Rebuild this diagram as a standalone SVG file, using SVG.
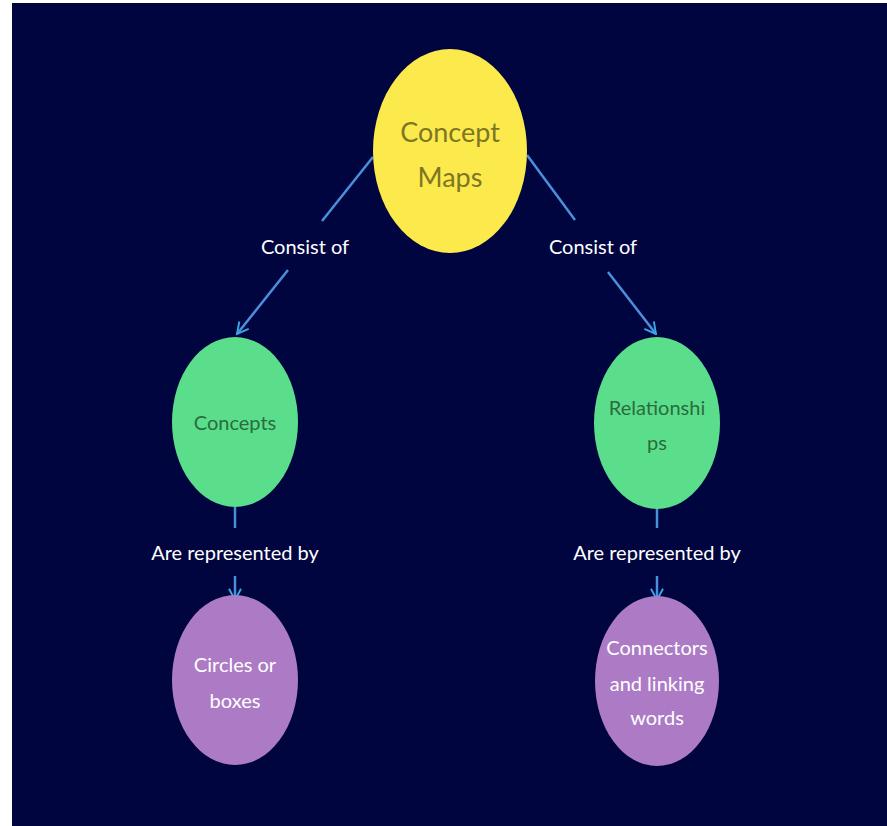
<svg xmlns="http://www.w3.org/2000/svg" width="887" height="826" viewBox="0 0 887 826">
  <defs>
    <marker id="arrow" viewBox="0 0 20 20" refX="18" refY="10" markerWidth="15" markerHeight="15" markerUnits="userSpaceOnUse" orient="auto">
      <path d="M3,2 L18,10 L3,18" fill="none" stroke="#35a6e6" stroke-width="2.6"/>
    </marker>
    <style>
      .edge { stroke: #4a8fdc; stroke-width: 2.5; fill: none; }
      .label { font-family: Lato, "Open Sans", sans-serif; font-size: 20px; fill: #ffffff; text-anchor: middle; }
      .t { font-family: Lato, "Open Sans", sans-serif; text-anchor: middle; }
      .root { fill: #fce94c; }
      .mid { fill: #5ade8b; }
      .leaf { fill: #ad7bc6; }
    </style>
  </defs>

  <rect x="0" y="0" width="887" height="826" fill="#ffffff"/>
  <rect x="12" y="3" width="875" height="823" fill="#01053f"/>

  <g id="connectors">
    <line class="edge" x1="373" y1="157" x2="322" y2="221"/>
    <line class="edge" x1="288" y1="270" x2="237" y2="334" marker-end="url(#arrow)"/>
    <line class="edge" x1="527" y1="155" x2="575" y2="220"/>
    <line class="edge" x1="608" y1="272" x2="656" y2="334" marker-end="url(#arrow)"/>
    <line class="edge" x1="235" y1="507" x2="235" y2="528"/>
    <line class="edge" x1="235" y1="576" x2="235" y2="600" marker-end="url(#arrow)"/>
    <line class="edge" x1="657" y1="508" x2="657" y2="528"/>
    <line class="edge" x1="657" y1="576" x2="657" y2="600" marker-end="url(#arrow)"/>
    <text class="label" x="305" y="254">Consist of</text>
    <text class="label" x="593" y="254">Consist of</text>
    <text class="label" x="235" y="560">Are represented by</text>
    <text class="label" x="657" y="560">Are represented by</text>
  </g>

  <g id="concept-maps">
    <ellipse class="root" cx="450" cy="151" rx="77" ry="102"/>
    <text class="t" x="450" y="142" font-size="27" fill="#7d7625">Concept</text>
    <text class="t" x="450" y="187" font-size="27" fill="#7d7625">Maps</text>
  </g>

  <g id="concepts">
    <ellipse class="mid" cx="235" cy="422" rx="63" ry="85"/>
    <text class="t" x="235" y="430" font-size="20" fill="#2b6b3c">Concepts</text>
  </g>

  <g id="relationships">
    <ellipse class="mid" cx="657" cy="423" rx="63" ry="86"/>
    <text class="t" x="657" y="415" font-size="20" fill="#2b6b3c">Relationshi</text>
    <text class="t" x="657" y="450" font-size="20" fill="#2b6b3c">ps</text>
  </g>

  <g id="circles-or-boxes">
    <ellipse class="leaf" cx="235" cy="680" rx="63" ry="85"/>
    <text class="t" x="235" y="672" font-size="20" fill="#ffffff">Circles or</text>
    <text class="t" x="235" y="708" font-size="20" fill="#ffffff">boxes</text>
  </g>

  <g id="connectors-and-linking-words">
    <ellipse class="leaf" cx="657" cy="681" rx="62" ry="85"/>
    <text class="t" x="657" y="655" font-size="20" fill="#ffffff">Connectors</text>
    <text class="t" x="657" y="691" font-size="20" fill="#ffffff">and linking</text>
    <text class="t" x="657" y="725" font-size="20" fill="#ffffff">words</text>
  </g>
</svg>
